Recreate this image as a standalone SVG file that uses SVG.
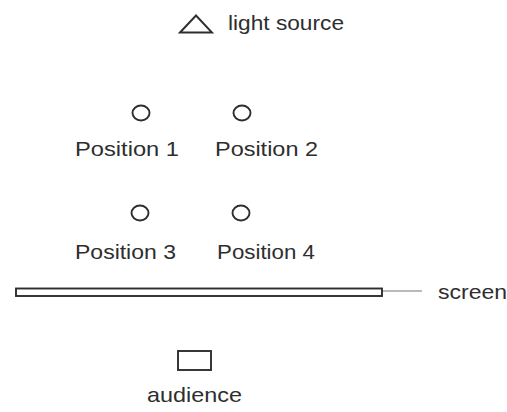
<svg xmlns="http://www.w3.org/2000/svg" width="507" height="412" viewBox="0 0 507 412">
<style>
text{font-family:"Liberation Sans",Arial,sans-serif;font-size:21px;fill:#2e2e2e}
.sh{fill:none;stroke:#2e2e2e;stroke-width:1.9}
</style>
<rect width="507" height="412" fill="#fff"/>
<g id="light-source">
<polygon class="sh" points="180,32.5 196,15.5 212,32.5"/>
<text x="228" y="30" textLength="116" lengthAdjust="spacingAndGlyphs">light source</text>
</g>
<g id="position-1">
<ellipse class="sh" cx="141" cy="113" rx="8.5" ry="7.5"/>
<text x="75" y="156" textLength="104" lengthAdjust="spacingAndGlyphs">Position 1</text>
</g>
<g id="position-2">
<ellipse class="sh" cx="242" cy="113" rx="8.5" ry="7.5"/>
<text x="215" y="156" textLength="103" lengthAdjust="spacingAndGlyphs">Position 2</text>
</g>
<g id="position-3">
<ellipse class="sh" cx="140" cy="213" rx="8.5" ry="7.5"/>
<text x="75" y="259" textLength="101" lengthAdjust="spacingAndGlyphs">Position 3</text>
</g>
<g id="position-4">
<ellipse class="sh" cx="241" cy="213" rx="8.5" ry="7.5"/>
<text x="217" y="259" textLength="98" lengthAdjust="spacingAndGlyphs">Position 4</text>
</g>
<g id="screen">
<rect class="sh" x="16" y="288.5" width="366" height="7.5"/>
<text x="438" y="299" textLength="69" lengthAdjust="spacingAndGlyphs">screen</text>
</g>
<g id="connectors">
<line x1="383" y1="291" x2="422" y2="291" stroke="#777" stroke-width="1.2"/>
</g>
<g id="audience">
<rect class="sh" x="178" y="351" width="33" height="19"/>
<text x="147" y="402" textLength="95" lengthAdjust="spacingAndGlyphs">audience</text>
</g>
</svg>
